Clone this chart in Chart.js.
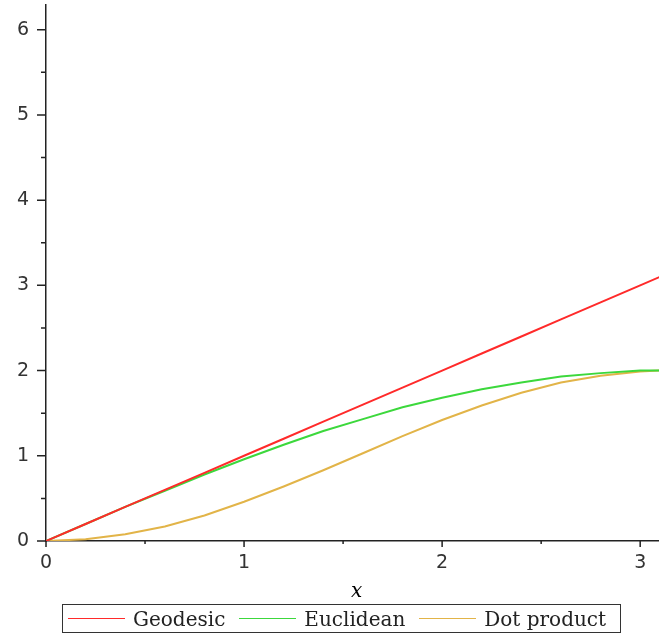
<!DOCTYPE html>
<html>
<head>
<meta charset="utf-8">
<script src="https://cdn.jsdelivr.net/npm/chart.js@4.4.1/dist/chart.umd.min.js"></script>
<style>
  body { margin: 0; background: #fff; }
  #wrap { position: relative; width: 659px; height: 634px; overflow: hidden; }
  #xlabel { position: absolute; left: 351px; top: 578px; font: italic 20px "DejaVu Serif", serif; color: #000; }
  #legend {
    position: absolute; left: 62px; top: 604px; width: 559px; height: 29px;
    box-sizing: border-box; border: 1.5px solid #333; display: flex; align-items: center;
    padding-left: 5px; font: 20px "DejaVu Serif", serif; color: #222;
  }
  .item { display: flex; align-items: center; margin-right: 14px; white-space: nowrap; }
  .swatch { width: 57px; height: 0; border-top: 1.5px solid; margin-right: 8px; }
</style>
</head>
<body>
<div id="wrap">
  <canvas id="myChart" width="659" height="634"></canvas>
  <div id="xlabel">x</div>
  <div id="legend"></div>
</div>
<script>
// values
const xValues = [0, 0.2, 0.4, 0.6, 0.8, 1.0, 1.2, 1.4, 1.6, 1.8, 2.0, 2.2, 2.4, 2.6, 2.8, 3.0, 3.1];
const geodesic = [0, 0.2, 0.4, 0.6, 0.8, 1.0, 1.2, 1.4, 1.6, 1.8, 2.0, 2.2, 2.4, 2.6, 2.8, 3.0, 3.1];
const euclidean = [0, 0.2, 0.4, 0.59, 0.78, 0.96, 1.13, 1.29, 1.43, 1.57, 1.68, 1.78, 1.86, 1.93, 1.97, 2.0, 2.0];
const dotProduct = [0, 0.02, 0.08, 0.17, 0.30, 0.46, 0.64, 0.83, 1.03, 1.23, 1.42, 1.59, 1.74, 1.86, 1.94, 1.99, 2.0];
const seriesNames = ['Geodesic', 'Euclidean', 'Dot product'];
const seriesColors = ['#ff2a2a', '#3cd83c', '#e2b448'];

const xMax = 3.095;
const yMax = 6.29;

function toPoints(ys) {
  return xValues.map((x, i) => ({ x: x, y: ys[i] }));
}

// maple style tick marks (major at integers, minor at halves)
const tickMarks = {
  id: 'tickMarks',
  afterDraw(chart) {
    const ctx = chart.ctx;
    const xs = chart.scales.x;
    const ys = chart.scales.y;
    const x0 = xs.getPixelForValue(0);
    const y0 = ys.getPixelForValue(0);
    ctx.save();
    ctx.strokeStyle = '#222';
    ctx.lineWidth = 1.5;
    ctx.beginPath();
    for (let v = 0; v <= xMax; v += 0.5) {
      const px = xs.getPixelForValue(v);
      const len = Number.isInteger(v) ? 6 : 3;
      ctx.moveTo(px, y0);
      ctx.lineTo(px, y0 + len);
    }
    for (let v = 0; v <= yMax; v += 0.5) {
      const py = ys.getPixelForValue(v);
      const len = Number.isInteger(v) ? 9 : 5;
      ctx.moveTo(x0, py);
      ctx.lineTo(x0 - len, py);
    }
    ctx.stroke();
    ctx.restore();
  }
};

const datasets = [geodesic, euclidean, dotProduct].map((ys, i) => ({
  label: seriesNames[i],
  data: toPoints(ys),
  borderColor: seriesColors[i],
  borderWidth: 2,
  pointRadius: 0,
  tension: 0,
  fill: false
}));

const mychart = document.getElementById('myChart').getContext('2d');
const chart = new Chart(mychart, {
  type: 'line',
  data: { datasets: datasets },
  options: {
    responsive: false,
    animation: false,
    layout: { padding: { top: 5, right: 0, left: 0, bottom: 0 } },
    plugins: { legend: { display: false }, tooltip: { enabled: false } },
    scales: {
      x: {
        type: 'linear',
        min: 0,
        max: xMax,
        grid: { display: false, drawTicks: false },
        border: { display: true, color: '#222', width: 1.5 },
        ticks: {
          stepSize: 0.5,
          includeBounds: false,
          autoSkip: false,
          maxRotation: 0,
          padding: 11,
          color: '#333',
          font: { family: 'DejaVu Sans', size: 19 },
          callback: v => Number.isInteger(v) ? v : ''
        },
        afterFit: scale => {
          scale.height = 93;
          scale.paddingLeft = 0;
          scale.paddingRight = 0;
        }
      },
      y: {
        type: 'linear',
        min: 0,
        max: yMax,
        grid: { display: false, drawTicks: false },
        border: { display: true, color: '#222', width: 1.5 },
        ticks: {
          stepSize: 0.5,
          includeBounds: false,
          autoSkip: false,
          padding: 17,
          color: '#333',
          font: { family: 'DejaVu Sans', size: 19 },
          callback: v => Number.isInteger(v) ? v : ''
        },
        afterFit: scale => {
          scale.width = 46;
          scale.paddingTop = 0;
          scale.paddingBottom = 0;
        }
      }
    }
  },
  plugins: [tickMarks]
});

// legend box built from the datasets
const legend = document.getElementById('legend');
datasets.forEach(ds => {
  legend.insertAdjacentHTML('beforeend',
    `<div class="item"><span class="swatch" style="border-color:${ds.borderColor}"></span>${ds.label}</div>`);
});
</script>
</body>
</html>
